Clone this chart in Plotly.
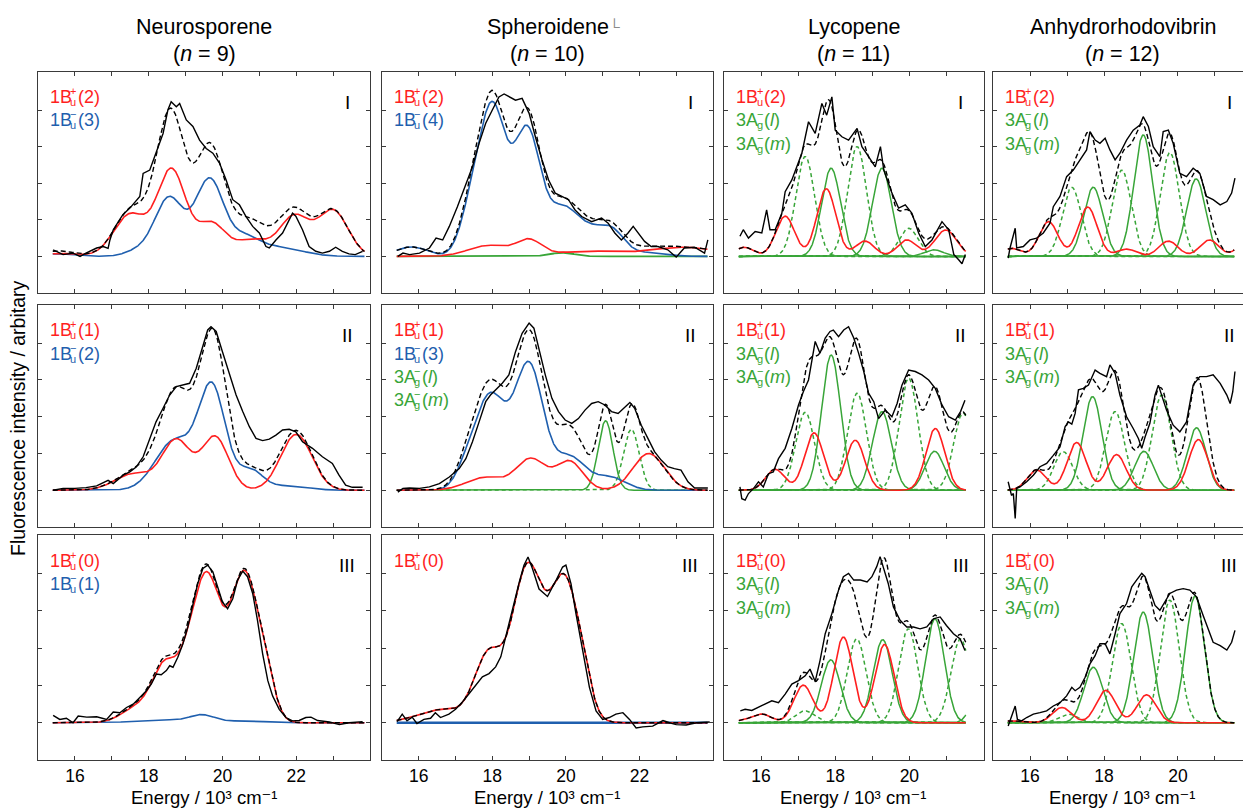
import numpy as np
import plotly.graph_objects as go

# ---------------------------------------------------------------------------
# Observed fluorescence spectra (energy in 10^3 cm^-1, intensity arbitrary)
# ---------------------------------------------------------------------------
NEU_I_X = [15.41, 15.68, 15.95, 16.14, 16.3, 16.59, 16.77, 16.9, 16.95, 17.04, 17.3, 17.49, 17.76, 17.85,
           18.03, 18.2, 18.39, 18.52, 18.61, 18.75, 18.84, 19.02, 19.2, 19.38, 19.56, 19.74, 19.92, 20.1,
           20.28, 20.46, 20.64, 20.82, 21.0, 21.18, 21.27, 21.45, 21.63, 21.81, 21.9, 21.99, 22.17, 22.35,
           22.53, 22.71, 22.9, 23.07, 23.25, 23.43, 23.6, 23.8]
NEU_I_Y = [0.18, 0.05, 0.09, 0.0, 0.09, 0.23, 0.27, 0.22, 0.45, 0.73, 1.14, 1.32, 1.64, 2.27,
           2.36, 2.82, 3.36, 4.0, 4.23, 4.09, 4.18, 3.73, 3.55, 3.18, 2.95, 2.82, 2.55, 2.09,
           1.55, 1.41, 1.09, 0.82, 0.64, 0.27, 0.23, 0.45, 0.64, 1.0, 1.18, 1.1, 0.73, 0.27,
           0.14, 0.09, 0.14, 0.25, 0.14, 0.07, 0.05, 0.14]

SPH_I_X = [15.43, 15.57, 15.75, 16.02, 16.29, 16.47, 16.65, 16.83, 17.05, 17.28, 17.46, 17.64, 17.82, 18.0,
           18.18, 18.32, 18.45, 18.63, 18.81, 19.0, 19.17, 19.35, 19.53, 19.71, 19.89, 20.07, 20.25, 20.43,
           20.7, 20.97, 21.15, 21.33, 21.51, 21.69, 21.83, 21.96, 22.14, 22.32, 22.5, 22.77, 23.0, 23.22,
           23.5, 23.77, 23.86]
SPH_I_Y = [0.0, 0.09, 0.05, 0.09, 0.23, 0.5, 0.45, 0.82, 1.36, 1.95, 2.45, 3.09, 3.64, 4.0,
           4.36, 4.44, 4.36, 4.27, 4.32, 3.91, 3.27, 2.64, 2.09, 1.73, 1.64, 1.55, 1.27, 1.09,
           0.95, 1.05, 0.91, 0.64, 0.45, 0.64, 0.82, 0.64, 0.41, 0.27, 0.27, 0.18, -0.02, 0.23,
           0.25, 0.09, 0.45]

LYC_I_X = [15.43, 15.52, 15.66, 15.84, 16.02, 16.15, 16.24, 16.38, 16.56, 16.65, 16.83, 16.96, 17.1, 17.28,
           17.46, 17.64, 17.77, 17.91, 18.0, 18.18, 18.36, 18.59, 18.72, 18.9, 19.08, 19.22, 19.31, 19.53,
           19.71, 19.89, 20.07, 20.25, 20.43, 20.61, 20.88, 21.06, 21.2, 21.33, 21.42, 21.51]
LYC_I_Y = [0.55, 0.73, 0.5, 0.68, 0.64, 1.27, 0.73, 0.73, 1.18, 1.77, 2.09, 2.45, 2.82, 3.68,
           3.36, 4.18, 3.86, 4.36, 3.45, 3.27, 3.18, 3.5, 3.0, 2.73, 2.45, 3.0, 2.36, 1.73,
           1.32, 1.41, 1.18, 0.64, 0.27, 0.45, 0.95, 0.73, 0.05, -0.09, -0.2, 0.05]

ANH_I_X = [15.41, 15.46, 15.6, 15.64, 15.82, 16.0, 16.18, 16.36, 16.54, 16.63, 16.81, 16.99, 17.17, 17.35,
           17.53, 17.62, 17.76, 17.89, 18.03, 18.16, 18.3, 18.43, 18.61, 18.79, 18.97, 19.06, 19.2, 19.33,
           19.51, 19.6, 19.74, 19.87, 20.05, 20.23, 20.41, 20.59, 20.77, 20.95, 21.14, 21.32, 21.45, 21.54]
ANH_I_Y = [-0.05, 0.23, 0.77, 0.23, 0.27, 0.45, 0.5, 0.64, 0.91, 1.36, 1.64, 2.18, 2.36, 2.64,
           2.91, 3.41, 3.18, 3.09, 3.23, 2.91, 2.64, 2.82, 3.18, 3.45, 3.59, 3.82, 3.55, 3.0,
           2.73, 3.41, 3.45, 3.09, 2.27, 2.18, 2.41, 2.27, 1.64, 1.55, 1.41, 1.5, 1.73, 2.14]

NEU_II_X = [15.41, 15.68, 16.0, 16.3, 16.59, 16.9, 17.04, 17.31, 17.49, 17.67, 17.85, 18.03, 18.2, 18.39,
            18.57, 18.75, 18.93, 19.11, 19.29, 19.47, 19.6, 19.69, 19.83, 20.0, 20.19, 20.37, 20.55, 20.73,
            20.91, 21.09, 21.27, 21.45, 21.63, 21.81, 21.99, 22.17, 22.44, 22.71, 22.98, 23.16, 23.34,
            23.52, 23.8]
NEU_II_Y = [0.0, 0.05, 0.05, 0.07, 0.12, 0.27, 0.18, 0.41, 0.5, 0.64, 0.91, 1.41, 1.86, 2.23,
            2.59, 2.82, 2.86, 2.91, 3.32, 3.95, 4.36, 4.45, 4.32, 3.77, 3.14, 2.59, 2.14, 1.73,
            1.41, 1.35, 1.39, 1.5, 1.64, 1.66, 1.59, 1.32, 1.14, 0.91, 0.73, 0.41, 0.14,
            0.08, 0.08]

SPH_II_X = [15.43, 15.57, 15.75, 16.02, 16.29, 16.56, 16.83, 17.1, 17.28, 17.46, 17.64, 17.82, 17.95, 18.09,
            18.27, 18.45, 18.63, 18.81, 19.0, 19.13, 19.26, 19.44, 19.62, 19.8, 19.98, 20.16, 20.34, 20.52,
            20.7, 20.88, 21.06, 21.24, 21.42, 21.6, 21.74, 21.87, 22.05, 22.23, 22.41, 22.59, 22.77, 22.95,
            23.13, 23.32, 23.5, 23.86]
SPH_II_Y = [-0.05, 0.05, 0.06, 0.05, 0.09, 0.18, 0.36, 0.59, 0.86, 1.32, 1.86, 2.41, 2.59, 2.73,
            2.91, 3.14, 3.77, 4.27, 4.55, 4.41, 3.86, 3.14, 2.5, 2.14, 1.91, 1.82, 1.95, 2.18,
            2.36, 2.41, 2.32, 2.14, 2.09, 2.27, 2.39, 2.23, 1.77, 1.41, 1.05, 0.82, 0.64, 0.59,
            0.55, 0.23, 0.06, 0.06]

LYC_II_X = [15.43, 15.48, 15.57, 15.66, 15.8, 15.93, 16.06, 16.2, 16.33, 16.47, 16.65, 16.83, 17.01, 17.14,
            17.28, 17.46, 17.59, 17.73, 17.86, 17.95, 18.09, 18.23, 18.36, 18.5, 18.63, 18.77, 18.9, 19.04,
            19.17, 19.35, 19.53, 19.67, 19.8, 19.98, 20.16, 20.34, 20.52, 20.7, 20.88, 21.06, 21.24, 21.38,
            21.5]
LYC_II_Y = [0.09, -0.23, -0.27, -0.09, 0.05, 0.23, 0.09, 0.45, 0.5, 0.86, 1.14, 1.68, 2.32, 2.68,
            3.0, 4.05, 3.73, 4.14, 4.32, 4.36, 4.18, 4.36, 4.45, 4.14, 3.73, 3.23, 2.64, 2.41,
            1.95, 2.18, 2.0, 2.36, 2.86, 3.27, 3.23, 3.14, 3.0, 2.77, 2.32, 2.0, 1.91, 2.14,
            2.45]

ANH_II_X = [15.41, 15.5, 15.55, 15.6, 15.64, 15.73, 15.91, 16.09, 16.27, 16.45, 16.63, 16.81, 16.95, 17.04,
            17.13, 17.22, 17.31, 17.44, 17.58, 17.76, 17.89, 18.07, 18.16, 18.3, 18.43, 18.61, 18.79, 18.93,
            19.02, 19.11, 19.24, 19.38, 19.47, 19.56, 19.69, 19.87, 20.05, 20.23, 20.41, 20.59, 20.77, 20.95,
            21.14, 21.32, 21.41, 21.48, 21.54]
ANH_II_Y = [0.23, -0.14, -0.09, -0.77, 0.05, 0.09, 0.23, 0.41, 0.64, 0.73, 0.95, 1.18, 1.73, 1.86,
            1.8, 2.09, 2.73, 2.77, 2.86, 3.27, 3.18, 3.09, 3.41, 3.18, 2.59, 2.0, 1.68, 1.41,
            1.14, 1.45, 1.82, 2.59, 2.86, 2.59, 2.18, 1.77, 1.59, 1.86, 2.86, 3.09, 3.09, 3.14,
            2.91, 2.59, 2.36, 2.68, 3.23]

NEU_III_X = [15.41, 15.59, 15.77, 15.95, 16.09, 16.32, 16.59, 16.86, 17.04, 17.22, 17.4, 17.58, 17.76, 17.94,
             18.07, 18.21, 18.34, 18.48, 18.57, 18.66, 18.79, 18.93, 19.06, 19.2, 19.33, 19.47, 19.6, 19.74,
             19.87, 20.0, 20.14, 20.28, 20.41, 20.55, 20.68, 20.82, 20.95, 21.09, 21.23, 21.36, 21.54, 21.72,
             21.9, 22.08, 22.26, 22.4, 22.58, 22.9, 23.17, 23.43, 23.8]
NEU_III_Y = [0.2, 0.09, 0.12, 0.0, 0.18, 0.15, 0.16, 0.09, 0.29, 0.27, 0.41, 0.5, 0.68, 0.86,
             1.04, 1.31, 1.29, 1.4, 1.53, 1.49, 1.76, 2.12, 2.57, 3.2, 3.74, 4.14, 4.23, 4.05,
             3.65, 3.24, 3.06, 3.33, 3.83, 4.07, 3.92, 3.47, 2.75, 1.85, 1.13, 0.72, 0.36, 0.14,
             0.05, 0.06, 0.14, 0.15, 0.06, 0.02, -0.05, 0.0, 0.03]

SPH_III_X = [15.41, 15.55, 15.68, 15.82, 15.95, 16.14, 16.32, 16.45, 16.59, 16.82, 17.0, 17.18, 17.36, 17.55,
             17.73, 17.91, 18.09, 18.23, 18.36, 18.55, 18.73, 18.86, 18.97, 19.09, 19.27, 19.5, 19.73, 19.91,
             20.0, 20.14, 20.27, 20.45, 20.64, 20.82, 21.0, 21.18, 21.36, 21.55, 21.73, 21.91, 22.09, 22.36,
             22.64, 22.82, 23.0, 23.27, 23.55, 23.91]
SPH_III_Y = [0.03, 0.23, 0.05, 0.15, -0.02, 0.09, 0.12, 0.27, 0.14, 0.23, 0.36, 0.55, 0.77, 1.0,
             1.23, 1.32, 1.5, 1.77, 2.32, 3.05, 3.77, 4.23, 4.45, 4.14, 3.59, 3.39, 3.82, 4.18,
             4.23, 3.73, 2.95, 1.95, 0.95, 0.32, 0.09, 0.14, 0.23, 0.27, 0.09, -0.14, -0.11, -0.09,
             0.06, 0.0, -0.05, -0.06, 0.0, 0.02]

LYC_III_X = [15.44, 15.57, 15.75, 15.93, 16.11, 16.29, 16.47, 16.65, 16.83, 17.01, 17.19, 17.32, 17.46, 17.59,
             17.73, 17.91, 18.09, 18.22, 18.36, 18.5, 18.68, 18.86, 18.99, 19.12, 19.21, 19.3, 19.43, 19.57,
             19.75, 19.93, 20.11, 20.29, 20.47, 20.65, 20.83, 21.0, 21.19, 21.37, 21.5]
LYC_III_Y = [0.32, 0.36, 0.33, 0.41, 0.5, 0.59, 0.54, 0.77, 1.04, 1.13, 1.26, 1.44, 1.11, 1.67,
             2.39, 2.93, 3.56, 3.92, 4.01, 3.83, 3.83, 3.78, 3.92, 4.19, 4.46, 4.19, 3.74, 3.11,
             2.75, 2.57, 2.57, 2.52, 2.57, 2.79, 2.84, 2.61, 2.39, 2.25, 1.94]

ANH_III_X = [15.41, 15.5, 15.6, 15.66, 15.77, 15.91, 16.09, 16.27, 16.45, 16.63, 16.81, 16.99, 17.13, 17.22,
             17.35, 17.49, 17.62, 17.76, 17.89, 18.03, 18.16, 18.3, 18.43, 18.61, 18.75, 18.88, 19.02, 19.11,
             19.24, 19.38, 19.51, 19.65, 19.78, 19.96, 20.14, 20.32, 20.5, 20.68, 20.86, 20.95, 21.14, 21.32,
             21.45, 21.54]
ANH_III_Y = [-0.09, 0.14, 0.45, 0.09, 0.05, 0.14, 0.23, 0.27, 0.32, 0.45, 0.54, 0.72, 0.95, 0.86,
             0.95, 1.22, 1.58, 1.8, 2.12, 2.12, 1.85, 2.39, 2.93, 3.2, 3.65, 3.83, 4.01, 3.92,
             3.56, 3.15, 3.02, 3.24, 3.47, 3.56, 3.6, 3.56, 3.38, 2.88, 2.39, 2.16, 2.07, 1.95,
             2.16, 2.48]

# ---------------------------------------------------------------------------
# Fitted vibronic band components: (centre, height, FWHM)
# ---------------------------------------------------------------------------
NEU_I_RED = [(15.6, 0.08, 1.2), (17.5, 1.15, 1.05), (18.62, 2.35, 0.9), (19.7, 0.9, 0.9),
             (20.8, 0.45, 1.0), (21.95, 1.1, 0.95), (23.0, 1.25, 0.95)]
NEU_I_BLUE = [(15.5, 0.07, 1.0), (17.7, 0.15, 0.8), (18.55, 1.6, 0.9), (19.65, 2.1, 0.9),
              (20.6, 0.45, 0.9), (21.5, 0.25, 1.5)]

SPH_I_RED = [(17.9, 0.3, 1.3), (19.0, 0.42, 0.8), (20.6, 0.14, 2.0), (23.2, 0.25, 2.2)]
SPH_I_BLUE = [(15.8, 0.26, 1.0), (17.4, 1.0, 0.7), (18.0, 4.0, 0.85), (18.95, 3.4, 0.85),
              (19.9, 1.2, 0.9), (20.6, 0.6, 0.9), (21.25, 0.65, 0.8), (22.2, 0.1, 1.2)]
SPH_I_GREEN = [(19.9, 0.1, 0.8)]

LYC_I_RED = [(15.55, 0.25, 0.6), (16.65, 1.1, 0.6), (17.76, 1.85, 0.6), (18.8, 0.42, 0.6),
             (19.93, 0.45, 0.6), (20.98, 0.72, 0.7)]
LYC_I_GL = [(17.89, 2.41, 0.6), (19.26, 2.41, 0.6), (20.66, 0.18, 0.6)]
LYC_I_GM = [(17.19, 2.73, 0.6), (18.59, 3.0, 0.6), (19.98, 0.77, 0.6)]

ANH_I_RED = [(15.5, 0.22, 0.6), (16.5, 0.95, 0.6), (17.56, 1.35, 0.6), (18.61, 0.2, 0.6),
             (19.74, 0.42, 0.6), (20.85, 0.45, 0.6), (21.9, 0.5, 0.6)]
ANH_I_GL = [(17.71, 1.89, 0.6), (19.06, 3.32, 0.6), (20.49, 2.12, 0.6)]
ANH_I_GM = [(17.13, 1.89, 0.6), (18.48, 2.36, 0.6), (19.78, 2.84, 0.6)]

NEU_II_RED = [(17.6, 0.45, 1.2), (18.75, 1.35, 0.9), (19.8, 1.45, 0.85), (22.0, 1.52, 1.0)]
NEU_II_BLUE = [(18.7, 1.35, 1.2), (19.72, 2.75, 0.85), (20.75, 0.55, 0.8), (21.8, 0.12, 1.2)]

SPH_II_RED = [(17.8, 0.35, 1.2), (19.05, 0.85, 0.95), (20.1, 0.78, 0.85), (22.25, 1.0, 1.0)]
SPH_II_BLUE = [(17.3, 0.4, 0.7), (17.95, 2.55, 1.0), (19.0, 3.35, 0.9), (20.1, 0.9, 1.0),
               (21.2, 0.35, 1.0)]
SPH_II_GL = [(21.08, 1.89, 0.47)]
SPH_II_GM = [(21.78, 1.66, 0.5)]

LYC_II_RED = [(16.38, 0.57, 0.6), (17.43, 1.56, 0.6), (18.54, 1.36, 0.6), (20.7, 1.68, 0.6)]
LYC_II_GL = [(17.89, 3.68, 0.6), (19.26, 2.14, 0.6), (20.68, 1.06, 0.6)]
LYC_II_GM = [(17.19, 2.12, 0.6), (18.59, 2.64, 0.6), (19.98, 3.05, 0.6), (21.45, 2.1, 0.6)]

ANH_II_RED = [(16.18, 0.55, 0.6), (17.26, 1.3, 0.6), (18.34, 0.97, 0.6), (20.55, 1.38, 0.6)]
ANH_II_GL = [(17.69, 2.55, 0.6), (19.08, 1.06, 0.6), (20.5, 1.7, 0.6)]
ANH_II_GM = [(16.9, 1.05, 0.6), (18.3, 2.14, 0.6), (19.56, 2.59, 0.6)]

NEU_III_RED = [(17.7, 0.4, 1.0), (18.45, 1.5, 0.8), (19.0, 0.6, 0.6), (19.56, 3.9, 0.9),
               (20.6, 3.95, 0.9), (21.2, 0.7, 0.6)]
NEU_III_BLUE = [(18.3, 0.08, 1.5), (19.45, 0.2, 0.8), (20.6, 0.05, 1.2)]

SPH_III_RED = [(16.6, 0.35, 1.5), (17.9, 1.8, 0.9), (18.95, 4.1, 0.95), (19.97, 3.8, 0.95),
               (20.5, 0.35, 0.5)]
SPH_III_BLUE = []

LYC_III_RED = [(15.5, 0.05, 0.6), (16.02, 0.23, 0.6), (17.14, 1.01, 0.6), (18.22, 2.3, 0.6),
               (19.33, 2.1, 0.6)]
LYC_III_GL = [(17.88, 1.69, 0.6), (19.28, 2.23, 0.6), (20.69, 2.79, 0.6), (22.09, 2.6, 0.6)]
LYC_III_GM = [(17.19, 0.32, 0.6), (18.58, 2.25, 0.6), (19.97, 2.52, 0.6), (21.38, 2.25, 0.6)]

ANH_III_RED = [(15.5, 0.05, 0.6), (16.86, 0.41, 0.6), (18.05, 0.87, 0.6), (19.15, 0.75, 0.6)]
ANH_III_GL = [(17.71, 1.49, 0.6), (19.06, 2.97, 0.6), (20.46, 3.4, 0.6)]
ANH_III_GM = [(17.04, 0.23, 0.6), (18.48, 2.66, 0.6), (19.78, 3.29, 0.6)]

# Column headings and axis ticks
COMPOUNDS = ["Neurosporene", "Spheroidene", "Lycopene", "Anhydrorhodovibrin"]
CHAIN_N = [9, 10, 11, 12]
ROMAN = ["I", "II", "III"]
X_MAJOR = [[16, 18, 20, 22], [16, 18, 20, 22], [16, 18, 20], [16, 18, 20]]
X_MINOR = [[17, 19, 21, 23], [17, 19, 21, 23], [17, 19, 21], [17, 19, 21]]
X_TITLE = "Energy / 10³ cm⁻¹"

# ---------------------------------------------------------------------------
# Styling / layout
# ---------------------------------------------------------------------------
RED = "#ff1f1f"
BLUE = "#1f5fae"
GREEN = "#38a538"
BLACK = "#000000"
FRAME = "#3a3a3a"
FONT = "Liberation Sans, Arial, Helvetica, DejaVu Sans, sans-serif"

W, H = 1243, 809
COLS_PX = [(38, 370), (382, 713), (724, 983.5), (993, 1243)]
COL_FULL_W = [332, 331, 259.5, 259]          # full panel widths (last column is clipped)
ROWS_PX = [(72, 293), (305, 527), (535, 760)]
X_RANGES = [(15, 24), (15, 24), (15, 22), (15, 21.757)]
X_FULL_MAX = [24, 24, 22, 22]
X_END = [23.85, 23.85, 21.52, 21.52]
Y_RANGE = [-1, 5.04]


def bands(x, params):
    y = np.zeros_like(x)
    for c, h, w in params:
        y = y + h * np.exp(-4.0 * np.log(2.0) * (x - c) ** 2 / w ** 2)
    return y


def leg(base, sup, sub, tail, color):
    return (base, sup, sub, tail, color)


L_I = "(<i>l</i>)"
L_M = "(<i>m</i>)"
PANELS = [
    dict(r=0, c=0, ox=NEU_I_X, oy=NEU_I_Y, red=NEU_I_RED, blue=NEU_I_BLUE,
         legend=[leg("1B", "+", "u", "(2)", RED), leg("1B", "−", "u", "(3)", BLUE)]),
    dict(r=0, c=1, ox=SPH_I_X, oy=SPH_I_Y, red=SPH_I_RED, blue=SPH_I_BLUE, green=SPH_I_GREEN,
         legend=[leg("1B", "+", "u", "(2)", RED), leg("1B", "−", "u", "(4)", BLUE)]),
    dict(r=0, c=2, ox=LYC_I_X, oy=LYC_I_Y, red=LYC_I_RED, gl=LYC_I_GL, gm=LYC_I_GM,
         legend=[leg("1B", "+", "u", "(2)", RED), leg("3A", "−", "g", L_I, GREEN),
                 leg("3A", "−", "g", L_M, GREEN)]),
    dict(r=0, c=3, ox=ANH_I_X, oy=ANH_I_Y, red=ANH_I_RED, gl=ANH_I_GL, gm=ANH_I_GM,
         legend=[leg("1B", "+", "u", "(2)", RED), leg("3A", "−", "g", L_I, GREEN),
                 leg("3A", "−", "g", L_M, GREEN)]),
    dict(r=1, c=0, ox=NEU_II_X, oy=NEU_II_Y, red=NEU_II_RED, blue=NEU_II_BLUE,
         legend=[leg("1B", "+", "u", "(1)", RED), leg("1B", "−", "u", "(2)", BLUE)]),
    dict(r=1, c=1, ox=SPH_II_X, oy=SPH_II_Y, red=SPH_II_RED, blue=SPH_II_BLUE, gl=SPH_II_GL, gm=SPH_II_GM,
         legend=[leg("1B", "+", "u", "(1)", RED), leg("1B", "−", "u", "(3)", BLUE),
                 leg("3A", "−", "g", L_I, GREEN), leg("3A", "−", "g", L_M, GREEN)]),
    dict(r=1, c=2, ox=LYC_II_X, oy=LYC_II_Y, red=LYC_II_RED, gl=LYC_II_GL, gm=LYC_II_GM,
         legend=[leg("1B", "+", "u", "(1)", RED), leg("3A", "−", "g", L_I, GREEN),
                 leg("3A", "−", "g", L_M, GREEN)]),
    dict(r=1, c=3, ox=ANH_II_X, oy=ANH_II_Y, red=ANH_II_RED, gl=ANH_II_GL, gm=ANH_II_GM,
         legend=[leg("1B", "+", "u", "(1)", RED), leg("3A", "−", "g", L_I, GREEN),
                 leg("3A", "−", "g", L_M, GREEN)]),
    dict(r=2, c=0, ox=NEU_III_X, oy=NEU_III_Y, red=NEU_III_RED, blue=NEU_III_BLUE,
         legend=[leg("1B", "+", "u", "(0)", RED), leg("1B", "−", "u", "(1)", BLUE)]),
    dict(r=2, c=1, ox=SPH_III_X, oy=SPH_III_Y, red=SPH_III_RED, blue=SPH_III_BLUE,
         legend=[leg("1B", "+", "u", "(0)", RED)]),
    dict(r=2, c=2, ox=LYC_III_X, oy=LYC_III_Y, red=LYC_III_RED, gl=LYC_III_GL, gm=LYC_III_GM,
         legend=[leg("1B", "+", "u", "(0)", RED), leg("3A", "−", "g", L_I, GREEN),
                 leg("3A", "−", "g", L_M, GREEN)]),
    dict(r=2, c=3, ox=ANH_III_X, oy=ANH_III_Y, red=ANH_III_RED, gl=ANH_III_GL, gm=ANH_III_GM,
         legend=[leg("1B", "+", "u", "(0)", RED), leg("3A", "−", "g", L_I, GREEN),
                 leg("3A", "−", "g", L_M, GREEN)]),
]

fig = go.Figure()
layout = dict(width=W, height=H, margin=dict(l=0, r=0, t=0, b=0),
              paper_bgcolor="white", plot_bgcolor="white", showlegend=False)
annotations = []


def text(t, x, y, xref, yref, size, color=BLACK, xanchor="center", yanchor="middle",
         xshift=0, yshift=0, angle=0):
    annotations.append(dict(text=t, x=x, y=y, xref=xref, yref=yref, showarrow=False,
                            font=dict(family=FONT, size=size, color=color),
                            xanchor=xanchor, yanchor=yanchor, xshift=xshift, yshift=yshift,
                            textangle=angle))


def line(k, x, y, color, width, dash="solid"):
    fig.add_trace(go.Scatter(x=x, y=y, mode="lines", hoverinfo="skip",
                             line=dict(color=color, width=width, dash=dash),
                             xaxis="x" + ("" if k == 1 else str(k)),
                             yaxis="y" + ("" if k == 1 else str(k))))


for k, p in enumerate(PANELS, start=1):
    r, c = p["r"], p["c"]
    sfx = "" if k == 1 else str(k)
    x0, x1 = COLS_PX[c]
    yt, yb = ROWS_PX[r]
    layout["xaxis" + sfx] = dict(
        domain=[x0 / W, x1 / W], range=list(X_RANGES[c]), anchor="y" + sfx,
        showline=True, linecolor=FRAME, linewidth=1, mirror="ticks",
        ticks="inside", ticklen=4, tickwidth=1, tickcolor=FRAME,
        tickvals=X_MAJOR[c], showticklabels=(r == 2),
        minor=dict(tickvals=X_MINOR[c], ticks="inside", ticklen=4, tickwidth=1, tickcolor=FRAME),
        tickfont=dict(family=FONT, size=17.5, color=BLACK), ticklabelstandoff=0,
        showgrid=False, zeroline=False, fixedrange=True)
    layout["yaxis" + sfx] = dict(
        domain=[1 - yb / H, 1 - yt / H], range=Y_RANGE, anchor="x" + sfx,
        showline=True, linecolor=FRAME, linewidth=1, mirror=("ticks" if c < 3 else False),
        ticks="inside", ticklen=4, tickwidth=1, tickcolor=FRAME,
        tickvals=[0, 1, 2, 3, 4], showticklabels=False,
        showgrid=False, zeroline=False, fixedrange=True)

    x = np.linspace(15.4, X_END[c], 800)
    total = np.zeros_like(x)

    # green 3Ag- components, each band drawn on its own
    for params, dash in ((p.get("gm"), "4px,3px"), (p.get("gl"), "solid")):
        if params:
            for band in params:
                g = bands(x, [band])
                total += g
                line(k, x, g, GREEN, 1.5, dash)
    if p.get("green") is not None:
        g = bands(x, p["green"])
        total += g
        line(k, x, g, GREEN, 1.8)
    if p.get("blue") is not None:
        b = bands(x, p["blue"])
        total += b
        line(k, x, b, BLUE, 2.6 if not p["blue"] else 1.6)
    rd = bands(x, p["red"])
    total += rd
    line(k, x, rd, RED, 1.6)
    line(k, x, total, BLACK, 1.4, "5px,3px")
    line(k, p["ox"], p["oy"], BLACK, 1.4)

    # state labels
    xr = "x" + sfx
    yr = "y" + sfx
    for i, (base, sup, sub, tail, col) in enumerate(p["legend"]):
        yy = 4.35 - i * 0.635
        text(base, 15.27, yy, xr, yr, 18, col, xanchor="left")
        text(sup, 15.27, yy, xr, yr, 11, col, xanchor="left", xshift=20.5, yshift=6)
        text(sub, 15.27, yy, xr, yr, 11, col, xanchor="left", xshift=20.5, yshift=-5)
        text(tail, 15.27, yy, xr, yr, 18, col, xanchor="left", xshift=28)
    text(ROMAN[r], X_FULL_MAX[c] - 0.62, 4.22, xr, yr, 19)

# column headings and axis titles
for c in range(4):
    cx = (COLS_PX[c][0] + COL_FULL_W[c] / 2) / W
    text(COMPOUNDS[c], cx, 1 - 27 / H, "paper", "paper", 21.5)
    text("(<i>n</i> = %d)" % CHAIN_N[c], cx, 1 - 54 / H, "paper", "paper", 21.5)
    text(X_TITLE, cx, 1 - 797 / H, "paper", "paper", 18.5)

text("└", 614 / W, 1 - 26 / H, "paper", "paper", 15, color="#8a8a8a")
text("Fluorescence intensity / arbitary", 18 / W, 1 - 418 / H, "paper", "paper", 19.5, angle=-90)

layout["annotations"] = annotations
fig.update_layout(**layout)
fig.write_html("out.html", config={"displayModeBar": False},
               post_script="document.body.style.margin='0';document.body.style.overflow='hidden';")
